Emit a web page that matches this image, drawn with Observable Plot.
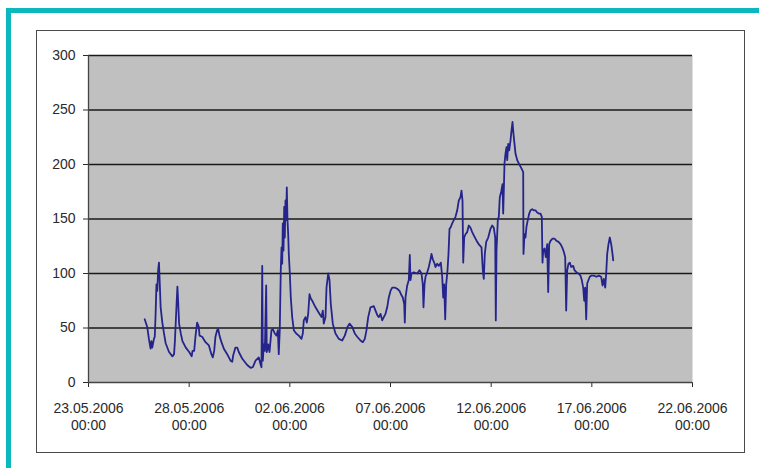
<!DOCTYPE html>
<html>
<head>
<meta charset="utf-8">
<script src="https://cdn.jsdelivr.net/npm/d3@7"></script>
<script src="https://cdn.jsdelivr.net/npm/@observablehq/plot@0.6"></script>
<style>
  html, body { margin: 0; padding: 0; background: #fff; }
  #wrap { position: relative; width: 759px; height: 468px; overflow: hidden; }
  #chart { position: absolute; left: 0; top: 0; }
  .teal { position: absolute; background: #0cb8c0; }
  #box { position: absolute; left: 36px; top: 30px; width: 709px; height: 423px; border: 1.5px solid #4a4a4a; box-sizing: border-box; }
</style>
</head>
<body>
<div id="wrap">
  <div id="box"></div>
  <div id="chart"></div>
  <div class="teal" style="left:6px;top:8px;right:0;height:5px"></div>
  <div class="teal" style="left:6px;top:8px;width:5px;bottom:0"></div>
</div>
<script>
// Tick labels
const xTickLabels = ["23.05.2006", "28.05.2006", "02.06.2006", "07.06.2006", "12.06.2006", "17.06.2006", "22.06.2006"];
const xTimeLabel = "00:00";
const yTicks = [0, 50, 100, 150, 200, 250, 300];

// Series: timestamps and values
const times = [
"25.05.2006 19:00","25.05.2006 22:00","26.05.2006 00:00","26.05.2006 02:00","26.05.2006 03:00","26.05.2006 04:00",
"26.05.2006 06:00","26.05.2006 07:00","26.05.2006 08:00","26.05.2006 09:00","26.05.2006 10:00","26.05.2006 11:00",
"26.05.2006 12:00","26.05.2006 13:00","26.05.2006 14:00","26.05.2006 16:00","26.05.2006 18:00","26.05.2006 20:00",
"27.05.2006 00:00","27.05.2006 04:00","27.05.2006 06:00","27.05.2006 07:00","27.05.2006 08:00","27.05.2006 09:00",
"27.05.2006 10:00","27.05.2006 11:00","27.05.2006 12:00","27.05.2006 14:00","27.05.2006 16:00","27.05.2006 20:00",
"28.05.2006 00:00","28.05.2006 03:00","28.05.2006 04:00","28.05.2006 06:00","28.05.2006 07:30","28.05.2006 09:30",
"28.05.2006 11:30","28.05.2006 12:20","28.05.2006 15:30","28.05.2006 19:30","28.05.2006 23:30","29.05.2006 02:30",
"29.05.2006 04:10","29.05.2006 05:50","29.05.2006 07:20","29.05.2006 09:20","29.05.2006 10:40","29.05.2006 12:10",
"29.05.2006 14:30","29.05.2006 17:20","29.05.2006 21:20","30.05.2006 01:20","30.05.2006 03:20","30.05.2006 04:30",
"30.05.2006 07:10","30.05.2006 09:20","30.05.2006 11:10","30.05.2006 15:10","30.05.2006 21:10","31.05.2006 01:10",
"31.05.2006 03:50","31.05.2006 07:06","31.05.2006 11:00","31.05.2006 13:00","31.05.2006 14:12","31.05.2006 15:06",
"31.05.2006 15:48","31.05.2006 17:00","31.05.2006 18:12","31.05.2006 19:48","31.05.2006 20:30","31.05.2006 22:12",
"31.05.2006 23:48","01.06.2006 02:06","01.06.2006 03:42","01.06.2006 06:06","01.06.2006 08:06","01.06.2006 09:42",
"01.06.2006 10:48","01.06.2006 12:00","01.06.2006 13:12","01.06.2006 14:06","01.06.2006 14:54","01.06.2006 15:36",
"01.06.2006 16:27","01.06.2006 17:17","01.06.2006 18:00","01.06.2006 18:50","01.06.2006 19:40","01.06.2006 20:23",
"01.06.2006 21:13","01.06.2006 22:03","01.06.2006 22:46","02.06.2006 00:00","02.06.2006 01:09","02.06.2006 02:49",
"02.06.2006 04:44","02.06.2006 07:35","02.06.2006 10:41","02.06.2006 13:55","02.06.2006 15:28","02.06.2006 16:39",
"02.06.2006 18:40","02.06.2006 20:13","02.06.2006 21:53","02.06.2006 23:26","03.06.2006 00:59","03.06.2006 03:23",
"03.06.2006 06:36","03.06.2006 10:32","03.06.2006 13:45","03.06.2006 15:18","03.06.2006 16:29","03.06.2006 18:31",
"03.06.2006 19:43","03.06.2006 21:44","03.06.2006 23:17","04.06.2006 00:50","04.06.2006 03:13","04.06.2006 06:26",
"04.06.2006 10:22","04.06.2006 14:25","04.06.2006 17:31","04.06.2006 20:44","04.06.2006 23:08","05.06.2006 02:20",
"05.06.2006 05:26","05.06.2006 08:18","05.06.2006 12:14","05.06.2006 14:59","05.06.2006 17:22","05.06.2006 19:23",
"05.06.2006 21:25","06.06.2006 00:10","06.06.2006 04:05","06.06.2006 06:07","06.06.2006 08:09","06.06.2006 10:03",
"06.06.2006 12:05","06.06.2006 14:06","06.06.2006 16:01","06.06.2006 18:02","06.06.2006 20:04","06.06.2006 21:58",
"07.06.2006 00:00","07.06.2006 02:01","07.06.2006 05:07","07.06.2006 07:59","07.06.2006 10:44","07.06.2006 13:07",
"07.06.2006 14:40","07.06.2006 16:20","07.06.2006 17:03","07.06.2006 17:53","07.06.2006 19:55","07.06.2006 21:49",
"07.06.2006 23:00","07.06.2006 23:50","08.06.2006 01:02","08.06.2006 03:46","08.06.2006 07:50","08.06.2006 10:34",
"08.06.2006 12:57","08.06.2006 14:30","08.06.2006 15:20","08.06.2006 16:32","08.06.2006 17:43","08.06.2006 19:45",
"08.06.2006 21:39","08.06.2006 23:41","09.06.2006 00:52","09.06.2006 02:25","09.06.2006 04:05","09.06.2006 05:38",
"09.06.2006 07:40","09.06.2006 09:34","09.06.2006 11:58","09.06.2006 13:38","09.06.2006 14:49","09.06.2006 16:01",
"09.06.2006 17:12","09.06.2006 18:24","09.06.2006 19:57","09.06.2006 21:08","09.06.2006 22:20","09.06.2006 23:31",
"10.06.2006 01:33","10.06.2006 03:28","10.06.2006 05:29","10.06.2006 07:31","10.06.2006 09:25","10.06.2006 11:26",
"10.06.2006 12:38","10.06.2006 13:50","10.06.2006 14:40","10.06.2006 15:51","10.06.2006 17:24","10.06.2006 19:26",
"10.06.2006 21:20","10.06.2006 23:22","11.06.2006 01:23","11.06.2006 03:18","11.06.2006 05:19","11.06.2006 07:21",
"11.06.2006 10:05","11.06.2006 12:29","11.06.2006 14:02","11.06.2006 15:13","11.06.2006 16:25","11.06.2006 18:05",
"11.06.2006 20:28","11.06.2006 23:12","12.06.2006 01:14","12.06.2006 03:08","12.06.2006 04:49","12.06.2006 05:31",
"12.06.2006 06:22","12.06.2006 07:55","12.06.2006 09:06","12.06.2006 10:17","12.06.2006 11:58","12.06.2006 13:31",
"12.06.2006 14:20","12.06.2006 15:04","12.06.2006 15:53","12.06.2006 17:05","12.06.2006 18:17","12.06.2006 19:07",
"12.06.2006 20:18","12.06.2006 21:30","12.06.2006 23:03","13.06.2006 00:14","13.06.2006 01:26","13.06.2006 02:37",
"13.06.2006 03:49","13.06.2006 05:00","13.06.2006 07:02","13.06.2006 08:56","13.06.2006 10:58","13.06.2006 12:59",
"13.06.2006 14:11","13.06.2006 14:32","13.06.2006 15:44","13.06.2006 16:56","13.06.2006 18:07","13.06.2006 19:40",
"13.06.2006 21:20","13.06.2006 22:53","14.06.2006 00:55","14.06.2006 02:49","14.06.2006 04:51","14.06.2006 06:52",
"14.06.2006 08:47","14.06.2006 10:49","14.06.2006 12:22","14.06.2006 13:11","14.06.2006 14:02","14.06.2006 15:34",
"14.06.2006 17:07","14.06.2006 18:47","14.06.2006 19:59","14.06.2006 21:11","14.06.2006 22:44","15.06.2006 01:07",
"15.06.2006 03:30","15.06.2006 05:53","15.06.2006 08:16","15.06.2006 10:39","15.06.2006 12:41","15.06.2006 14:35",
"15.06.2006 16:15","15.06.2006 17:26","15.06.2006 18:38","15.06.2006 20:11","15.06.2006 21:44","15.06.2006 23:24",
"16.06.2006 01:47","16.06.2006 03:20","16.06.2006 05:43","16.06.2006 08:06","16.06.2006 10:29","16.06.2006 12:02",
"16.06.2006 13:43","16.06.2006 14:54","16.06.2006 16:05","16.06.2006 17:17","16.06.2006 18:29","16.06.2006 20:02",
"16.06.2006 21:34","16.06.2006 23:14","17.06.2006 02:20","17.06.2006 05:34","17.06.2006 08:18","17.06.2006 11:10",
"17.06.2006 12:43","17.06.2006 14:16","17.06.2006 15:56","17.06.2006 17:07","17.06.2006 18:19","17.06.2006 19:52",
"17.06.2006 21:25","17.06.2006 23:05","18.06.2006 00:38","18.06.2006 01:28"
];
const values = [
58,51,40,31,38,32,
40,42,63,90,84,103,
110,90,69,55,45,36,
28,24,26,38,55,72,
88,72,54,45,38,32,
28,24,29,29,42,55,
51,43,42,37,34,26,
23,29,42,48,49,43,
37,31,26,20,19,25,
32,32,28,22,16,13.5,
14,20,23,17,14,107,
20,35,29,89,28,35,
28,48,49,45,43,48,
26,48,103,124,109,146,
121,161,133,167,149,179,
149,136,118,100,78,60,
48,45,43,40,45,57,
60,55,63,81,77,74,
69,64,60,66,54,60,
87,100,94,72,54,45,
40,38.5,43,51,54,51,
45,42,38.5,37,40,48,
60,69,70,66,62,60,
63,57,60,63,69,78,
84,87,87,86,84,80,
78,72,55,78,89,94,
117,94,100,101,100,103,
100,90,69,90,97,101,
106,113,118,113,110,106,
109,107,110,97,78,90,
58,90,103,118,141,142,
146,149,152,158,167,170,
176,167,110,133,136,138,
144,142,138,135,132,129,
126,124,103,95,118,129,
133,141,144,142,133,57,
121,149,152,170,175,182,
155,176,201,210,216,204,
219,213,222,231,239,228,
219,210,204,201,198,195,
193,118,136,133,143,149,
155,158,159,158,158,156,
155,155,152,110,121,123,
115,127,83,127,130,132,
132,130,129,127,124,120,
115,66,103,109,110,106,
107,103,101,100,98,94,
87,75,87,58,91,94,
97,98,98,97,98,97,
89,95,87,100,118,127,
133,127,118,112
];

const parseTime = d3.utcParse("%d.%m.%Y %H:%M");
const parseDay = d3.utcParse("%d.%m.%Y");
const data = times.map((t, i) => ({date: parseTime(t), value: values[i]}));
const xTickDates = xTickLabels.map(parseDay);

const chart = Plot.plot({
  width: 759,
  height: 468,
  marginLeft: 88,
  marginRight: 67,
  marginTop: 55,
  marginBottom: 86,
  style: {
    background: "transparent",
    fontFamily: "'Liberation Sans', Arial, sans-serif",
    fontSize: "14px",
    color: "#2a2a2a",
    overflow: "visible"
  },
  x: {
    type: "utc",
    domain: [xTickDates[0], xTickDates[xTickDates.length - 1]],
    ticks: xTickDates,
    tickFormat: () => "",
    tickSize: 5,
    label: null
  },
  y: {
    domain: [0, 300],
    ticks: yTicks,
    tickSize: 5,
    tickPadding: 8,
    label: null
  },
  marks: [
    Plot.frame({fill: "#c0c0c0", stroke: "none"}),
    Plot.ruleY(yTicks.filter(v => v > 0), {stroke: "#1a1a1a", strokeWidth: 1.5}),
    Plot.line(data, {x: "date", y: "value", stroke: "#24248c", strokeWidth: 1.8, strokeLinejoin: "round"}),
    Plot.ruleY([0], {stroke: "#444", strokeWidth: 1.3}),
    Plot.ruleX([xTickDates[0]], {stroke: "#444", strokeWidth: 1.3}),
    Plot.text(xTickDates, {
      x: d => d,
      text: (d, i) => xTickLabels[i] + "\n" + xTimeLabel,
      frameAnchor: "bottom",
      lineAnchor: "top",
      dy: 19,
      lineHeight: 1.2,
      fontSize: 14,
      fill: "#2a2a2a"
    })
  ]
});
document.getElementById("chart").appendChild(chart);
</script>
</body>
</html>
